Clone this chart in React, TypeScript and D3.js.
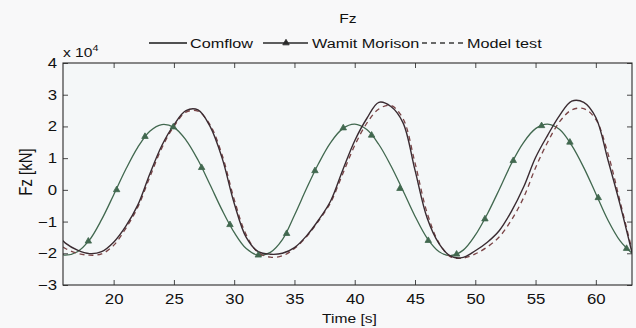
import * as d3 from "d3";
import { useEffect, useRef } from "react";

// time axis [s] and vertical force [x 10^4 kN]
const time = [
  15.8, 16, 17, 18, 19, 20, 21, 22, 23, 24, 25, 26, 27, 28, 29, 30, 31, 32, 33,
  34, 35, 36, 37, 38, 39, 40, 41, 42, 43, 44, 45, 46, 47, 48, 49, 50, 51, 52,
  53, 54, 55, 56, 57, 58, 59, 60, 61, 62, 63,
];

const comflow = [
  -1.6, -1.68, -1.9, -2.01, -1.95, -1.65, -1.15, -0.48, 0.5, 1.4, 2.05, 2.5,
  2.52, 2.0, 1.0, -0.42, -1.5, -1.95, -2.03, -2.0, -1.82, -1.45, -0.95, -0.35,
  0.62, 1.55, 2.25, 2.76, 2.63, 2.12, 0.62, -0.88, -1.7, -2.1, -2.13, -1.92,
  -1.65, -1.28, -0.68, 0.08, 1.02, 1.72, 2.35, 2.8, 2.76, 2.28, 0.95, -0.45,
  -1.98,
];

const wamit = [
  -2.04, -2.06, -1.95, -1.58, -0.94, -0.16, 0.64, 1.34, 1.85, 2.06, 1.97, 1.57,
  0.94, 0.16, -0.64, -1.34, -1.85, -2.06, -1.97, -1.57, -0.8, 0.04, 0.83, 1.49,
  1.93, 2.07, 1.9, 1.43, 0.76, -0.02, -0.83, -1.52, -1.95, -2.07, -1.9, -1.43,
  -0.76, 0.02, 0.83, 1.49, 1.93, 2.07, 1.9, 1.4, 0.7, -0.12, -0.95, -1.6, -2.0,
];

const modelTest = [
  -1.8, -1.85, -2.0, -2.06, -2.02, -1.75, -1.22, -0.55, 0.4, 1.32, 2.0, 2.45,
  2.48, 2.05, 1.1, -0.3, -1.42, -1.98, -2.12, -2.08, -1.85, -1.48, -0.98, -0.4,
  0.5, 1.4, 2.1, 2.55, 2.66, 2.25, 0.85, -0.72, -1.68, -2.12, -2.15, -2.02,
  -1.8, -1.48, -0.95, -0.25, 0.7, 1.5, 2.15, 2.52, 2.56, 2.22, 1.15, -0.35,
  -1.9,
];

// triangle markers on the Wamit Morison curve
const markerTime = [
  17.9, 20.25, 22.6, 24.95, 27.3, 29.65, 32.0, 34.35, 36.7, 39.05, 41.4, 43.75,
  46.1, 48.45, 50.8, 53.15, 55.5, 57.85, 60.2, 62.55,
];
const markerFz = [
  -1.62, 0.0, 1.68, 1.98, 0.7, -1.1, -2.06, -1.38, 0.6, 1.95, 1.72, 0.04, -1.6,
  -2.03, -0.92, 0.92, 2.02, 1.5, -0.25, -1.85,
];

const xTicks = [20, 25, 30, 35, 40, 45, 50, 55, 60];
const yTicks = [-3, -2, -1, 0, 1, 2, 3, 4];

const FONT = "'Liberation Sans', Arial, Helvetica, sans-serif";
const STRETCH = "scale(1.2,1)";
const INK = "#111";

const colors = {
  comflow: "#3a2b31",
  wamit: "#41684f",
  model: "#7a4446",
};

const Chart = () => {
  const ref = useRef<SVGSVGElement>(null);
  const width = 636;
  const height = 328;

  useEffect(() => {
    if (!ref.current) return;
    const svg = d3.select(ref.current);
    svg.selectAll("*").remove();

    const left = 63;
    const right = 632;
    const top = 63;
    const bottom = 285;

    svg
      .append("rect")
      .attr("width", width)
      .attr("height", height)
      .attr("fill", "#f8f8f9");

    const x = d3.scaleLinear().domain([15.8, 63]).range([left, right]);
    const y = d3.scaleLinear().domain([-3, 4]).range([bottom, top]);

    svg
      .append("rect")
      .attr("x", left)
      .attr("y", top)
      .attr("width", right - left)
      .attr("height", bottom - top)
      .attr("fill", "#f4f7f8");

    const plot = svg.append("g");
    plot
      .append("clipPath")
      .attr("id", "plot-clip")
      .append("rect")
      .attr("x", left)
      .attr("y", top)
      .attr("width", right - left)
      .attr("height", bottom - top);

    const line = d3
      .line<number>()
      .x((_, i) => x(time[i]))
      .y((d) => y(d))
      .curve(d3.curveCatmullRom.alpha(0.5));

    const curves = plot.append("g").attr("clip-path", "url(#plot-clip)");

    curves
      .append("path")
      .datum(wamit)
      .attr("fill", "none")
      .attr("stroke", colors.wamit)
      .attr("stroke-width", 1.3)
      .attr("d", line);

    curves
      .append("path")
      .datum(modelTest)
      .attr("fill", "none")
      .attr("stroke", colors.model)
      .attr("stroke-width", 1.3)
      .attr("stroke-dasharray", "5,4")
      .attr("d", line);

    curves
      .append("path")
      .datum(comflow)
      .attr("fill", "none")
      .attr("stroke", colors.comflow)
      .attr("stroke-width", 1.4)
      .attr("d", line);

    const tri = d3.symbol().type(d3.symbolTriangle).size(18);
    curves
      .selectAll(".tri")
      .data(markerTime)
      .enter()
      .append("path")
      .attr("class", "tri")
      .attr("d", tri)
      .attr("transform", (d, i) => `translate(${x(d)},${y(markerFz[i])})`)
      .attr("fill", colors.wamit)
      .attr("stroke", colors.wamit)
      .attr("stroke-width", 0.8);

    // axes, ticks pointing inward
    const fmt = d3.format("d");
    const styleAxis = (g: d3.Selection<SVGGElement, unknown, null, undefined>) => {
      g.select(".domain").remove();
      g.selectAll(".tick line").attr("stroke", "#333").attr("stroke-width", 0.9);
      g.selectAll(".tick text")
        .attr("fill", INK)
        .attr("font-family", FONT)
        .attr("font-size", 14)
        .attr("transform", STRETCH);
    };

    svg
      .append("g")
      .attr("transform", `translate(0,${bottom})`)
      .call(d3.axisBottom(x).tickValues(xTicks).tickSize(-5).tickPadding(9).tickFormat(fmt as any))
      .call(styleAxis);

    svg
      .append("g")
      .attr("transform", `translate(0,${top})`)
      .call(d3.axisTop(x).tickValues(xTicks).tickSize(-5).tickFormat(() => ""))
      .call(styleAxis);

    svg
      .append("g")
      .attr("transform", `translate(${left},0)`)
      .call(d3.axisLeft(y).tickValues(yTicks).tickSize(-5).tickPadding(5).tickFormat(fmt as any))
      .call(styleAxis);

    svg
      .append("g")
      .attr("transform", `translate(${right},0)`)
      .call(d3.axisRight(y).tickValues(yTicks).tickSize(-5).tickFormat(() => ""))
      .call(styleAxis);

    svg
      .append("rect")
      .attr("x", left)
      .attr("y", top)
      .attr("width", right - left)
      .attr("height", bottom - top)
      .attr("fill", "none")
      .attr("stroke", "#2a2a2a")
      .attr("stroke-width", 1.1);

    const text = (
      tx: number,
      ty: number,
      s: string,
      size: number,
      anchor = "start",
      extra = ""
    ) =>
      svg
        .append("text")
        .attr("transform", `translate(${tx},${ty}) ${STRETCH} ${extra}`)
        .attr("text-anchor", anchor)
        .attr("font-family", FONT)
        .attr("font-size", size)
        .attr("fill", INK)
        .text(s);

    // title, axis labels, exponent
    text(348, 23, "Fz", 13, "middle");
    text((left + right) / 2 + 2, 323, "Time [s]", 13, "middle");
    text(32, (top + bottom) / 2 - 2, "Fz [kN]", 15, "middle", "rotate(-90)");

    const exp = text(63, 57, "x 10", 13);
    exp
      .append("tspan")
      .attr("dy", -6)
      .attr("font-size", 9)
      .text("4");

    // legend
    const ly = 43;
    const legend = svg.append("g");
    legend
      .append("line")
      .attr("x1", 149)
      .attr("x2", 187)
      .attr("y1", ly)
      .attr("y2", ly)
      .attr("stroke", "#1a1a1a")
      .attr("stroke-width", 1.5);
    text(190, ly + 5, "Comflow", 13.5);

    legend
      .append("line")
      .attr("x1", 263)
      .attr("x2", 308)
      .attr("y1", ly)
      .attr("y2", ly)
      .attr("stroke", "#2a2a2a")
      .attr("stroke-width", 1.5);
    legend
      .append("path")
      .attr("d", tri)
      .attr("transform", `translate(286,${ly})`)
      .attr("fill", "#2a2a2a")
      .attr("stroke", "#2a2a2a")
      .attr("stroke-width", 0.8);
    text(312, ly + 5, "Wamit Morison", 13.5);

    legend
      .append("line")
      .attr("x1", 422)
      .attr("x2", 463)
      .attr("y1", ly)
      .attr("y2", ly)
      .attr("stroke", "#3a3a3a")
      .attr("stroke-width", 1.5)
      .attr("stroke-dasharray", "5,4");
    text(467, ly + 5, "Model test", 13.5);
  }, []);

  return <svg ref={ref} width={width} height={height} style={{ display: "block" }} />;
};

export default function App() {
  return (
    <div style={{ position: "fixed", left: 0, top: 0 }}>
      <Chart />
    </div>
  );
}
